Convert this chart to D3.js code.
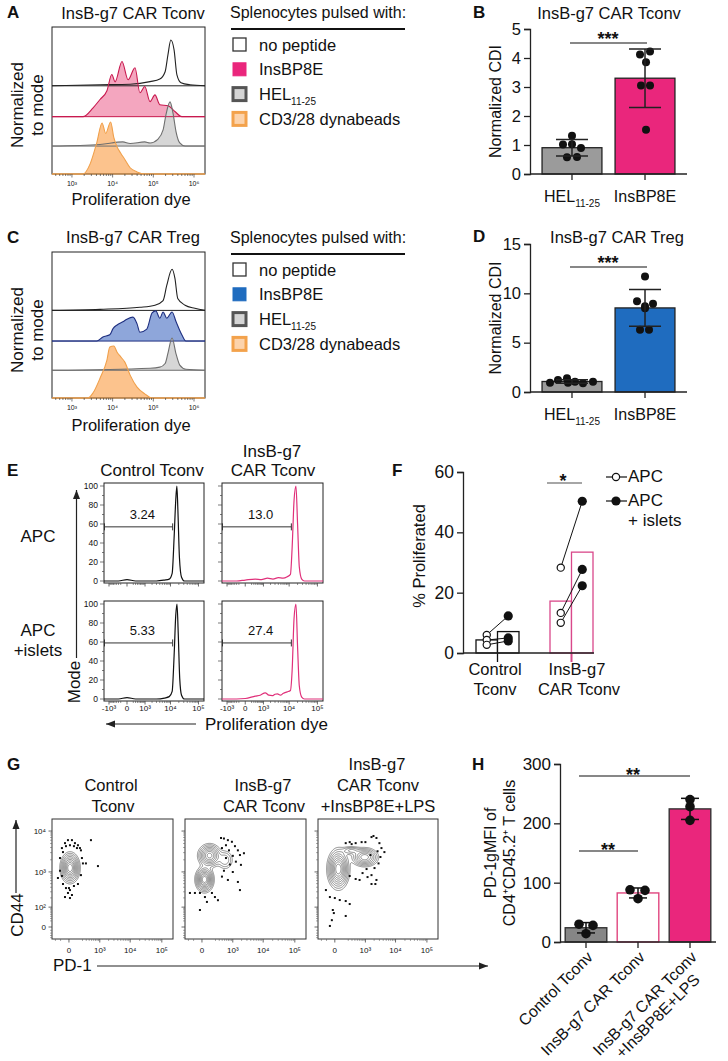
<!DOCTYPE html>
<html>
<head>
<meta charset="utf-8">
<script src="https://cdn.jsdelivr.net/npm/d3@7/dist/d3.min.js"></script>
<style>
  body { margin: 0; background: #fff; }
  svg text { font-family: "Liberation Sans", Arial, sans-serif; fill: #111; }
</style>
</head>
<body>
<svg id="fig" width="728" height="1061"></svg>
<script>
// ---------- A / C : offset histograms, [log10 dye intensity, % of mode] ----------
var dyeTicks = [3, 4, 5, 6];
var aNoPeptide = [[2.51,0],[3.69,2],[4.43,3],[4.92,8],[5.16,13],[5.29,27],[5.36,60],[5.43,88],[5.51,69],[5.58,21],[5.68,6],[5.90,2],[6.27,0]];
var aInsB = [[2.51,0],[3.27,0],[3.52,17],[3.69,33],[3.86,50],[3.98,81],[4.06,67],[4.23,106],[4.38,71],[4.55,94],[4.67,46],[4.79,58],[4.92,29],[5.04,42],[5.16,23],[5.36,21],[5.53,10],[5.70,0],[6.27,0]];
var aHel = [[2.51,0],[3.69,3],[4.25,8],[4.43,5],[4.79,8],[4.92,6],[5.11,13],[5.24,31],[5.31,60],[5.41,85],[5.48,65],[5.56,27],[5.65,6],[5.78,0],[6.27,0]];
var aBeads = [[2.51,0],[3.27,0],[3.45,20],[3.61,60],[3.74,98],[3.83,78],[3.95,100],[4.03,70],[4.11,52],[4.20,40],[4.30,28],[4.43,12],[4.60,4],[4.79,0],[6.27,0]];
var cNoPeptide = [[2.51,0],[3.69,2],[4.67,6],[5.04,10],[5.24,19],[5.33,48],[5.46,79],[5.53,62],[5.60,23],[5.78,10],[6.02,4],[6.27,0]];
var cInsB = [[2.51,0],[3.61,0],[3.76,8],[3.93,12],[4.01,24],[4.11,31],[4.25,37],[4.35,42],[4.50,46],[4.60,33],[4.67,17],[4.84,23],[4.97,54],[5.06,58],[5.16,44],[5.24,56],[5.33,44],[5.46,56],[5.56,37],[5.70,12],[5.80,0],[6.27,0]];
var cHel = [[2.51,0],[4.92,4],[5.16,6],[5.29,13],[5.36,33],[5.46,62],[5.56,31],[5.65,10],[5.80,2],[6.27,0]];
var cBeads = [[2.51,0],[3.39,0],[3.52,10],[3.69,38],[3.86,73],[3.93,98],[4.03,100],[4.11,88],[4.20,79],[4.30,69],[4.43,44],[4.60,21],[4.79,8],[4.97,0],[6.27,0]];
var legendLabels = ["no peptide", "InsBP8E", "HEL", "CD3/28 dynabeads"];

// ---------- B / D : normalized CDI ----------
var barCats = ["HEL", "InsBP8E"];
var bHel = [1.32, 1.02, 1.03, 0.90, 0.58, 0.59];
var bInsB = [4.12, 4.22, 3.85, 3.05, 3.05, 1.53];
var dHel = [0.94, 1.22, 1.39, 0.94, 1.04, 0.88, 1.04];
var dInsB = [11.7, 9.2, 8.95, 8.7, 8.5, 6.3, 6.3];

// ---------- E : histograms, [dye intensity, % of mode] ----------
var eControlApc = [[-1650,0],[-300,0],[0,1.5],[300,0],[3000,0],[6000,1],[9000,2],[11500,8],[13500,45],[15500,85],[17000,100],[18500,75],[21000,25],[25000,4],[32000,0],[157000,0]];
var eCarApc = [[-1650,0],[-300,0],[0,1],[370,2],[800,1.5],[1500,3],[2500,2],[4000,3.5],[6000,3],[8500,4.5],[11100,7],[12800,35],[15000,85],[17500,100],[20000,60],[23000,15],[28000,2],[35000,0],[157000,0]];
var eControlIslets = [[-1650,0],[-300,0],[0,1.5],[300,0],[3000,0],[6000,1],[9000,2.5],[11500,8],[13500,45],[15500,88],[17200,100],[19000,70],[21500,22],[25000,4],[32000,0],[157000,0]];
var eCarIslets = [[-1650,0],[-300,0],[0,0.5],[370,3],[700,4],[1200,6.5],[1700,4],[2350,3.5],[3000,5],[3700,5.5],[4800,4],[6200,6],[8500,7.5],[11100,9],[12800,30],[15000,85],[17500,100],[20000,55],[23000,14],[28000,2],[35000,0],[157000,0]];
var eGateEnd = 12000;
var eGatePct = [["3.24", "13.0"], ["5.33", "27.4"]];
var eDyeTicks = [-1000, 0, 1000, 10000, 100000];
var eDyeLabels = ["-10³", "0", "10³", "10⁴", "10⁵"];

// ---------- F : % proliferated ----------
var fCats = ["Control Tconv", "InsB-g7 CAR Tconv"];
var fApc = [[6.0, 4.3, 2.7], [28.3, 13.3, 10.0]];
var fIslets = [[12.3, 5.0, 4.0], [50.3, 27.7, 22.3]];

// ---------- G : CD44 vs PD-1 ----------
// populations: PD-1 and CD44 extent of the outer contour
var gPopsControl = [{pd1: [-110, 150], cd44: [500, 3100], w: 1}];
var gPopsCar = [{pd1: [-80, 170], cd44: [280, 1400], w: 1}, {pd1: [-50, 390], cd44: [1250, 5100], w: 0.8}, {pd1: [190, 1200], cd44: [1000, 3900], w: 0.22}];
var gPopsLps = [{pd1: [-95, 240], cd44: [335, 3900], w: 1}, {pd1: [240, 3000], cd44: [1300, 4100], w: 0.7}, {pd1: [50, 800], cd44: [2500, 4500], w: 0.25}];
var gDotsControl = [[-80,3870],[-40,5100],[-9,6030],[29,6030],[65,5100],[110,4540],[146,3870],[-29,4310],[9,4540],[52,4310],[94,3870],[-65,3090],[166,3410],[-110,2210],[187,2210],[-110,1070],[210,1630],[290,1630],[-80,790],[166,830],[-65,488],[-29,380],[9,335],[52,432],[110,488],[-9,278],[29,243],[-40,212],[9,198],[0,380],[470,6030],[860,1400],[-147,700]];
var gDotsCar = [[357,6800],[470,6600],[665,6030],[930,5500],[563,4540],[1190,4310],[1500,3410],[730,3410],[391,3870],[1760,2620],[2390,2900],[1000,2500],[563,2210],[1280,1800],[790,1530],[1900,1500],[470,1070],[1000,995],[665,623],[1500,553],[391,760],[-80,278],[-167,278],[-19,278],[29,212],[127,278],[187,212],[52,150],[-19,78],[262,170],[1760,335]];
var gDotsLps = [[146,5100],[236,5400],[290,4830],[430,5100],[730,5400],[1000,5400],[1630,7150],[1900,7600],[2390,6800],[3000,5100],[3500,3870],[2600,3240],[1500,2620],[3240,2345],[4370,3090],[2800,1630],[2060,1250],[1100,1180],[1630,830],[1190,740],[612,623],[790,935],[430,660],[236,789],[2390,623],[2200,488],[1630,488],[-52,212],[0,198],[52,172],[146,160],[-110,335],[236,128],[-19,78],[-9,58],[-52,3],[146,42],[-29,23]];
var gPdTicks = [0, 1000, 10000, 100000], gPdLabels = ["0", "10³", "10⁴", "10⁵"];
var gCdTicks = [0, 100, 1000, 10000], gCdLabels = ["0", "10²", "10³", "10⁴"];

// ---------- H : PD-1 gMFI ----------
var hCats = ["Control Tconv", "InsB-g7 CAR Tconv", "InsB-g7 CAR Tconv|+InsBP8E+LPS"];
var hControl = [30, 28, 14];
var hCar = [88, 87, 73];
var hCarLps = [240, 228, 205];

var PINK = "#ea267c", BLUE = "#1f6cbf";
var svg = d3.select("#fig");

function label(x, y, s, size, anchor, rot, bold) {
  var t = svg.append("text").attr("x", x).attr("y", y)
      .attr("font-size", size).attr("text-anchor", anchor || "start").text(s);
  if (bold) t.attr("font-weight", "bold");
  if (rot) t.attr("transform", "rotate(" + rot + "," + x + "," + y + ")");
  return t;
}

function line(x1, y1, x2, y2, color, w) {
  return svg.append("line").attr("x1", x1).attr("y1", y1).attr("x2", x2).attr("y2", y2)
      .attr("stroke", color || "#111").attr("stroke-width", w || 1.2);
}

function arrow(x1, y1, x2, y2) {
  line(x1, y1, x2, y2, "#222", 1.2);
  var a = Math.atan2(y2 - y1, x2 - x1), L = 9, W = 3.5;
  var bx = x2 - L * Math.cos(a), by = y2 - L * Math.sin(a);
  svg.append("path")
      .attr("d", "M" + x2 + "," + y2 + "L" + (bx + W * Math.sin(a)) + "," + (by - W * Math.cos(a)) +
                 "L" + (bx - W * Math.sin(a)) + "," + (by + W * Math.cos(a)) + "Z")
      .attr("fill", "#222");
}

function yAxis(scale, x, ticks, size) {
  var g = svg.append("g").attr("transform", "translate(" + x + ",0)")
      .call(d3.axisLeft(scale).tickValues(ticks).tickFormat(d3.format("d"))
        .tickSizeOuter(0).tickSize(6).tickPadding(3));
  g.selectAll("text").attr("font-size", size).attr("font-family", null).attr("fill", "#111");
  g.selectAll("line,path").attr("stroke", "#222").attr("stroke-width", 1.3);
  return g;
}

// ---------- panels A and C ----------
function histPanel(box, rows) {
  var x = d3.scaleLinear().domain([2.51, 6.27]).range([box.x0, box.x1]);
  var h = d3.scaleLinear().domain([0, 100]).range([0, 52]);
  var ht = box.y1 - box.y0, fracs = [0.40, 0.61, 0.81, 1.0];
  var g = svg.append("g");
  rows.forEach(function (r, i) {
    if (r.fill == "none") return;
    var base = box.y0 + fracs[i] * ht;
    g.append("path").datum(r.data)
        .attr("d", d3.area().x(d => x(d[0])).y0(base).y1(d => base - h(d[1])).curve(d3.curveMonotoneX))
        .attr("fill", r.fill);
  });
  g.append("rect").attr("x", box.x0).attr("y", box.y0).attr("width", box.x1 - box.x0).attr("height", ht)
      .attr("fill", "none").attr("stroke", "#222").attr("stroke-width", 1);
  rows.forEach(function (r, i) {
    var base = box.y0 + fracs[i] * ht;
    g.append("line").attr("x1", box.x0).attr("x2", box.x1).attr("y1", base).attr("y2", base)
        .attr("stroke", r.stroke).attr("stroke-width", 1);
    g.append("path").datum(r.data)
        .attr("d", d3.line().x(d => x(d[0])).y(d => base - h(d[1])).curve(d3.curveMonotoneX))
        .attr("fill", "none").attr("stroke", r.stroke).attr("stroke-width", 1.1);
  });
  // log ticks
  for (var n = 2; n <= 6; n++) {
    for (var k = 1; k <= 9; k++) {
      var v = n + Math.log10(k);
      if (v < 2.51 || v > 6.27) continue;
      g.append("line").attr("x1", x(v)).attr("x2", x(v)).attr("y1", box.y1).attr("y2", box.y1 + (k == 1 ? 3.5 : 2))
          .attr("stroke", "#444").attr("stroke-width", 0.7);
    }
  }
  dyeTicks.forEach(function (d) {
    g.append("text").attr("x", x(d)).attr("y", box.y1 + 12).attr("font-size", 7).attr("text-anchor", "middle")
        .attr("fill", "#444").text("10" + "⁰¹²³⁴⁵⁶"[d]);
  });
}

function legend(y0, insColor) {
  label(230, y0 + 18, "Splenocytes pulsed with:", 16);
  line(231, y0 + 29, 405, y0 + 29, "#111", 2);
  var st = [{f: "#fff", s: "#333", w: 1.3}, {f: insColor, s: insColor, w: 1},
            {f: "#d5d5d5", s: "#555", w: 3}, {f: "#fcd3ac", s: "#f3a24c", w: 3}];
  legendLabels.forEach(function (s, i) {
    var cy = y0 + 44.5 + i * 24.8;
    svg.append("rect").attr("x", 233).attr("y", cy - 6.5).attr("width", 13).attr("height", 13)
        .attr("fill", st[i].f).attr("stroke", st[i].s).attr("stroke-width", st[i].w);
    var t = label(259, cy + 6, s, 16.5);
    if (i == 2) t.append("tspan").attr("font-size", 10).attr("dy", 5).text("11-25");
  });
}

function sideLabel(yc) {
  label(23, yc, "Normalized", 17, "middle", -90);
  label(43, yc, "to mode", 17, "middle", -90);
}

histPanel({x0: 52, x1: 205, y0: 27, y1: 174}, [
  {data: aNoPeptide, fill: "none", stroke: "#222"},
  {data: aInsB, fill: "#f4a6bf", stroke: "#c8194f"},
  {data: aHel, fill: "#d6d6d6", stroke: "#6e6e6e"},
  {data: aBeads, fill: "#fcc38d", stroke: "#f0a04b"}]);
label(133, 19, "InsB-g7 CAR Tconv", 16.5, "middle");
label(131, 205, "Proliferation dye", 16.5, "middle");
sideLabel(105);
legend(0, PINK);

histPanel({x0: 52, x1: 205, y0: 252, y1: 398}, [
  {data: cNoPeptide, fill: "none", stroke: "#222"},
  {data: cInsB, fill: "#8ea6da", stroke: "#1e2f80"},
  {data: cHel, fill: "#d6d6d6", stroke: "#6e6e6e"},
  {data: cBeads, fill: "#fcc38d", stroke: "#f0a04b"}]);
label(133, 243, "InsB-g7 CAR Treg", 16.5, "middle");
label(131, 431, "Proliferation dye", 16.5, "middle");
sideLabel(330);
legend(225, BLUE);

// ---------- panels B and D ----------
function barPanel(cfg) {
  var y = d3.scaleLinear().domain([0, cfg.max]).range([cfg.yBase, cfg.yTop]);
  var x = d3.scaleBand().domain(barCats).range([530, 687]).paddingInner(0.18).paddingOuter(0.165);
  var sets = [cfg.hel, cfg.ins], fills = ["#9b9b9b", cfg.color], jit = cfg.jitter;
  sets.forEach(function (vals, i) {
    var m = d3.mean(vals), sd = d3.deviation(vals), cx = x(barCats[i]) + x.bandwidth() / 2;
    svg.append("rect").attr("x", x(barCats[i])).attr("y", y(m)).attr("width", x.bandwidth())
        .attr("height", y(0) - y(m)).attr("fill", fills[i]).attr("stroke", "#222").attr("stroke-width", 1.3);
    vals.forEach(function (v, j) {
      svg.append("circle").attr("cx", cx + jit[i][j]).attr("cy", y(v)).attr("r", 4).attr("fill", "#111");
    });
    line(cx, y(m - sd), cx, y(m + sd), "#222", 1.5);
    line(cx - 16, y(m + sd), cx + 16, y(m + sd), "#222", 1.5);
    line(cx - 16, y(m - sd), cx + 16, y(m - sd), "#222", 1.5);
    line(cx, cfg.yBase, cx, cfg.yBase + 6, "#222", 1.3);
  });
  yAxis(y, 530, cfg.ticks, 16.5);
  line(530, cfg.yBase, 687, cfg.yBase, "#222", 1.3);
  var hel = svg.append("text").attr("x", 572).attr("y", cfg.yBase + 28).attr("font-size", 16).attr("text-anchor", "middle");
  hel.append("tspan").text("HEL");
  hel.append("tspan").attr("font-size", 10).attr("dy", 5).text("11-25");
  label(645, cfg.yBase + 28, "InsBP8E", 16, "middle");
  label(501, (cfg.yBase + cfg.yTop) / 2, "Normalized CDI", 16, "middle", -90);
  line(570, cfg.sigY, 647, cfg.sigY, "#111", 1.2);
  label(608, cfg.sigY + 2, "***", 18, "middle", 0, true);
}

barPanel({max: 5, yBase: 174, yTop: 29, ticks: [0, 1, 2, 3, 4, 5], hel: bHel, ins: bInsB, color: PINK,
  jitter: [[0, -9, 0, 9, -5, 5], [-5, 5, 1, -4, 5, 1]], sigY: 43});
label(609, 19, "InsB-g7 CAR Tconv", 16.5, "middle");
barPanel({max: 15, yBase: 392, yTop: 244, ticks: [0, 5, 10, 15], hel: dHel, ins: dInsB, color: BLUE,
  jitter: [[-22, -14, -5, -4, 3, 11, 21], [0, -8, 8, 0, 0, -5, 4]], sigY: 267});
label(617, 243, "InsB-g7 CAR Treg", 16.5, "middle");

// ---------- panel E ----------
var eCols = [{x0: 104, x1: 204}, {x0: 222, x1: 323}];
var eRows = [{y0: 581, y100: 486, gate: 57}, {y0: 699, y100: 604, gate: 59}];
var eHists = [[eControlApc, eCarApc], [eControlIslets, eCarIslets]];
var eColors = ["#111", "#e0307a"];
eRows.forEach(function (row, r) {
  eCols.forEach(function (col, c) {
    var x = d3.scaleSymlog().constant(300).domain([-1650, 157000]).range([col.x0, col.x1]);
    var y = d3.scaleLinear().domain([0, 100]).range([row.y0, row.y100]);
    svg.append("rect").attr("x", col.x0).attr("y", row.y100 - 3).attr("width", col.x1 - col.x0)
        .attr("height", row.y0 - row.y100 + 5).attr("fill", "none").attr("stroke", "#222").attr("stroke-width", 1);
    svg.append("path").datum(eHists[r][c])
        .attr("d", d3.line().x(d => x(d[0])).y(d => y(d[1])).curve(d3.curveMonotoneX))
        .attr("fill", "none").attr("stroke", eColors[c]).attr("stroke-width", 1.2);
    // gate
    var gy = y(row.gate), gx1 = x(eGateEnd);
    line(col.x0, gy, gx1, gy, "#333", 1);
    line(col.x0 + 0.5, gy - 3.5, col.x0 + 0.5, gy + 3.5, "#333", 1);
    line(gx1, gy - 3.5, gx1, gy + 3.5, "#333", 1);
    label((col.x0 + gx1) / 2 + 4, gy - 8, eGatePct[r][c], 13, "middle");
    // y ticks
    for (var v = 0; v <= 100; v += 10) {
      line(col.x0, y(v), col.x0 - (v % 20 == 0 ? 4 : 2), y(v), "#444", 0.7);
      if (c == 0 && v % 20 == 0) {
        svg.append("text").attr("x", col.x0 - 6).attr("y", y(v) + 3).attr("font-size", 8.5)
            .attr("text-anchor", "end").attr("fill", "#333").text(v);
      }
    }
    // x ticks
    var minors = [];
    [100, 1000, 10000].forEach(function (p) { for (var k = 2; k <= 9; k++) minors.push(k * p); });
    minors.concat(minors.map(d => -d)).forEach(function (d) {
      if (d < -1650 || d > 157000) return;
      line(x(d), row.y0 + 2, x(d), row.y0 + 4, "#444", 0.6);
    });
    eDyeTicks.forEach(function (d, i) {
      line(x(d), row.y0 + 2, x(d), row.y0 + 5.5, "#444", 0.8);
      if (r == 1) {
        svg.append("text").attr("x", x(d)).attr("y", row.y0 + 12).attr("font-size", 8)
            .attr("text-anchor", "middle").attr("fill", "#333").text(eDyeLabels[i]);
      }
    });
  });
});
label(152, 476, "Control Tconv", 17, "middle");
label(272, 457, "InsB-g7", 17, "middle");
label(273, 476, "CAR Tconv", 17, "middle");
label(38, 542, "APC", 17, "middle");
label(38, 636, "APC", 17, "middle");
label(38, 656, "+islets", 17, "middle");
arrow(76.5, 658, 76.5, 490);
label(80, 682, "Mode", 17, "middle", -90);
arrow(196, 724, 106, 724);
label(205, 730, "Proliferation dye", 17, "start");

// ---------- panel F ----------
var fy = d3.scaleLinear().domain([0, 60]).range([653, 472]);
var fx = d3.scaleBand().domain(fCats).range([461.2, 607.8]).paddingInner(0.419).paddingOuter(0.2);
var fSub = d3.scaleBand().domain(["APC", "islets"]).range([0, fx.bandwidth()]);
var fStroke = ["#111", "#d9488a"];
fCats.forEach(function (cat, i) {
  var sets = [fApc[i], fIslets[i]], keys = ["APC", "islets"];
  sets.forEach(function (vals, k) {
    var m = d3.mean(vals);
    svg.append("rect").attr("x", fx(cat) + fSub(keys[k])).attr("y", fy(m)).attr("width", fSub.bandwidth())
        .attr("height", fy(0) - fy(m)).attr("fill", "#fff").attr("stroke", fStroke[i]).attr("stroke-width", 1.3);
  });
  var cx = fx(cat) + fx.bandwidth() / 2;
  line(cx, fy(0), cx, fy(0) + 9, fStroke[i], i == 1 ? 2 : 1.3);
  var xa = fx(cat) + fSub("APC") + fSub.bandwidth() / 2, xi = fx(cat) + fSub("islets") + fSub.bandwidth() / 2;
  fApc[i].forEach(function (v, j) { line(xa, fy(v), xi, fy(fIslets[i][j]), "#111", 1); });
  fApc[i].forEach(function (v) {
    svg.append("circle").attr("cx", xa).attr("cy", fy(v)).attr("r", 3.6).attr("fill", "#fff").attr("stroke", "#111").attr("stroke-width", 1.2);
  });
  fIslets[i].forEach(function (v) {
    svg.append("circle").attr("cx", xi).attr("cy", fy(v)).attr("r", 4.6).attr("fill", "#111");
  });
});
yAxis(fy, 463, [0, 20, 40, 60], 17.5);
line(463, 653, 594, 653, "#222", 1.3);
label(495, 675, "Control", 16.5, "middle");
label(495, 695, "Tconv", 16.5, "middle");
label(577, 675, "InsB-g7", 16.5, "middle");
label(579, 695, "CAR Tconv", 16.5, "middle");
label(425, 556, "% Proliferated", 16.5, "middle", -90);
line(547, 483, 582, 483, "#888", 1.5);
label(563, 487, "*", 18, "middle", 0, true);
line(606, 477, 627, 477, "#111", 1.2);
svg.append("circle").attr("cx", 616).attr("cy", 477).attr("r", 3.6).attr("fill", "#fff").attr("stroke", "#111").attr("stroke-width", 1.2);
label(628, 482, "APC", 17);
line(606, 501, 627, 501, "#111", 1.2);
svg.append("circle").attr("cx", 616).attr("cy", 501).attr("r", 4.6).attr("fill", "#111");
label(628, 506, "APC", 17);
label(628, 526, "+ islets", 17);

// ---------- panel G ----------
var gBoxes = [{x0: 52, x1: 173, pops: gPopsControl, dots: gDotsControl},
              {x0: 185, x1: 306, pops: gPopsCar, dots: gDotsCar},
              {x0: 318, x1: 438, pops: gPopsLps, dots: gDotsLps}];
var gY0 = 819, gY1 = 939;
gBoxes.forEach(function (b, bi) {
  var xs = d3.scaleSymlog().constant(120).domain([-290, 225000]).range([b.x0, b.x1]);
  var ys = d3.scaleSymlog().constant(50).domain([-47, 19500]).range([gY1, gY0]);
  var w = Math.round(b.x1 - b.x0), h = gY1 - gY0;
  var comps = b.pops.map(function (p) {
    var a = xs(p.pd1[0]), c = xs(p.pd1[1]), e = ys(p.cd44[0]), f = ys(p.cd44[1]);
    return {cx: (a + c) / 2 - b.x0, cy: (e + f) / 2 - gY0, sx: Math.abs(c - a) / 4.8, sy: Math.abs(f - e) / 4.8, w: p.w};
  });
  var vals = new Float64Array(w * h);
  for (var j = 0; j < h; j++) {
    for (var i = 0; i < w; i++) {
      var s = 0;
      comps.forEach(function (q) {
        var dx = (i + 0.5 - q.cx) / q.sx, dy = (j + 0.5 - q.cy) / q.sy;
        s += q.w * Math.exp(-0.5 * (dx * dx + dy * dy));
      });
      vals[j * w + i] = s;
    }
  }
  var mx = d3.max(vals);
  var levels = [0.05, 0.09, 0.15, 0.23, 0.33, 0.45, 0.58, 0.72, 0.86].map(f => f * mx);
  var cs = d3.contours().size([w, h]).thresholds(levels)(vals);
  svg.append("g").attr("transform", "translate(" + b.x0 + "," + gY0 + ")")
      .selectAll("path").data(cs).join("path")
      .attr("d", d3.geoPath()).attr("fill", "none").attr("stroke", "#444").attr("stroke-width", 0.6);
  svg.append("g").selectAll("rect").data(b.dots).join("rect")
      .attr("x", d => xs(d[0]) - 1).attr("y", d => ys(d[1]) - 1).attr("width", 2).attr("height", 2).attr("fill", "#111");
  svg.append("rect").attr("x", b.x0).attr("y", gY0).attr("width", w).attr("height", h)
      .attr("fill", "none").attr("stroke", "#333").attr("stroke-width", 1);
  // ticks
  var minorsX = [], minorsY = [];
  [100, 1000, 10000].forEach(function (p) { for (var k = 2; k <= 9; k++) minorsX.push(k * p); });
  [10, 100, 1000].forEach(function (p) { for (var k = 2; k <= 9; k++) minorsY.push(k * p); });
  minorsX.concat([-100, -200]).forEach(function (d) { line(xs(d), gY1, xs(d), gY1 + 2, "#555", 0.5); });
  minorsY.concat([-10, -20, -30, -40]).forEach(function (d) { line(b.x0, ys(d), b.x0 - 2, ys(d), "#555", 0.5); });
  gPdTicks.forEach(function (d, i) {
    line(xs(d), gY1, xs(d), gY1 + 3.5, "#444", 0.8);
    svg.append("text").attr("x", xs(d)).attr("y", gY1 + 14).attr("font-size", 8).attr("text-anchor", "middle")
        .attr("fill", "#333").text(gPdLabels[i]);
  });
  gCdTicks.forEach(function (d, i) {
    line(b.x0, ys(d), b.x0 - 3.5, ys(d), "#444", 0.8);
    if (bi == 0) {
      svg.append("text").attr("x", b.x0 - 6).attr("y", ys(d) + 3).attr("font-size", 8).attr("text-anchor", "end")
          .attr("fill", "#333").text(gCdLabels[i]);
    }
  });
});
label(111, 791, "Control", 16.5, "middle");
label(113, 812, "Tconv", 16.5, "middle");
label(263, 791, "InsB-g7", 16.5, "middle");
label(264, 812, "CAR Tconv", 16.5, "middle");
label(377, 770, "InsB-g7", 16.5, "middle");
label(378, 791, "CAR Tconv", 16.5, "middle");
label(378, 812, "+InsBP8E+LPS", 16.5, "middle");
arrow(16, 893, 16, 820);
label(23, 915, "CD44", 17, "middle", -90);
label(53, 971, "PD-1", 17);
arrow(97, 966, 488, 966);

// ---------- panel H ----------
var hy = d3.scaleLinear().domain([0, 300]).range([942, 764]);
var hx = d3.scaleBand().domain(hCats).range([560, 716]).paddingInner(0.2).paddingOuter(0.1);
var hSets = [hControl, hCar, hCarLps];
var hStyle = [{f: "#868686", s: "#333"}, {f: "#fff", s: "#e0457f"}, {f: PINK, s: "#333"}];
var hJit = [[-7, 7, 0], [-8, 7, 0], [0, 0, 0]];
hCats.forEach(function (cat, i) {
  var vals = hSets[i], m = d3.mean(vals), sd = d3.deviation(vals), cx = hx(cat) + hx.bandwidth() / 2;
  svg.append("rect").attr("x", hx(cat)).attr("y", hy(m)).attr("width", hx.bandwidth()).attr("height", hy(0) - hy(m))
      .attr("fill", hStyle[i].f).attr("stroke", hStyle[i].s).attr("stroke-width", 1.4);
  vals.forEach(function (v, j) {
    svg.append("circle").attr("cx", cx + hJit[i][j]).attr("cy", hy(v)).attr("r", 4.8).attr("fill", "#111");
  });
  line(cx, hy(m - sd), cx, hy(m + sd), "#111", 1.5);
  line(cx - 9, hy(m + sd), cx + 9, hy(m + sd), "#111", 1.5);
  line(cx - 9, hy(m - sd), cx + 9, hy(m - sd), "#111", 1.5);
  line(cx, 942, cx, 948, "#222", 1.3);
  var parts = cat.split("|");
  var g = svg.append("g").attr("transform", "translate(" + (cx + 8) + ",958) rotate(-45)");
  var t1 = g.append("text").attr("x", 0).attr("y", 0).attr("font-size", 16).attr("text-anchor", "end").text(parts[0]);
  if (parts[1]) {
    var L = t1.node().getComputedTextLength();
    g.append("text").attr("x", -L / 2).attr("y", 18).attr("font-size", 16).attr("text-anchor", "middle").text(parts[1]);
  }
});
yAxis(hy, 560, [0, 100, 200, 300], 17);
line(560, 942, 716, 942, "#222", 1.3);
var hc = hx.bandwidth() / 2;
line(hx(hCats[0]) + hc - 7, 776, hx(hCats[2]) + hc, 776, "#111", 1.2);
label(633, 781, "**", 18, "middle", 0, true);
line(hx(hCats[0]) + hc - 7, 851, hx(hCats[1]) + hc, 851, "#111", 1.2);
label(608, 856, "**", 18, "middle", 0, true);
label(496, 853, "PD-1gMFI of", 16, "middle", -90);
label(515, 853, "CD4⁺CD45.2⁺ T cells", 16, "middle", -90);

// ---------- panel letters ----------
[["A", 7, 18], ["B", 473, 18], ["C", 7, 243], ["D", 473, 242], ["E", 7, 476], ["F", 392, 476], ["G", 7, 770], ["H", 472, 770]]
  .forEach(function (p) { label(p[1], p[2], p[0], 17, "start", 0, true); });
</script>
</body>
</html>
